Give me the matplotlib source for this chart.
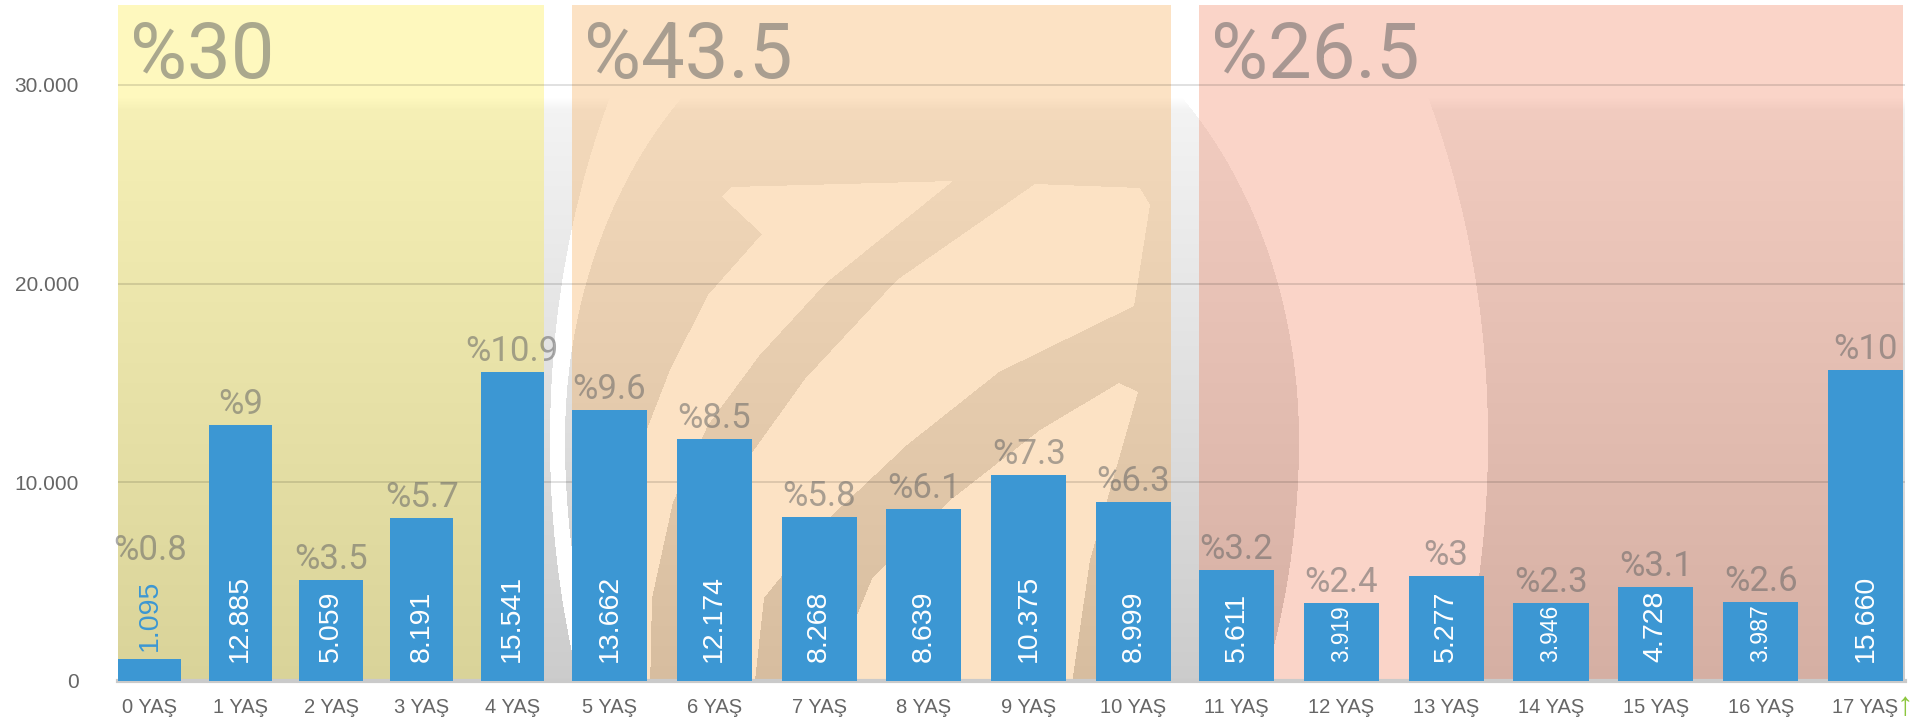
import numpy as np
import matplotlib
matplotlib.use("Agg")
import matplotlib.pyplot as plt
from matplotlib.path import Path
from matplotlib import font_manager

# ---------------- data ----------------
age_labels = ["0 YAŞ", "1 YAŞ", "2 YAŞ", "3 YAŞ", "4 YAŞ", "5 YAŞ", "6 YAŞ", "7 YAŞ",
              "8 YAŞ", "9 YAŞ", "10 YAŞ", "11 YAŞ", "12 YAŞ", "13 YAŞ", "14 YAŞ",
              "15 YAŞ", "16 YAŞ", "17 YAŞ"]
counts = [1095, 12885, 5059, 8191, 15541, 13662, 12174, 8268, 8639, 10375, 8999,
          5611, 3919, 5277, 3946, 4728, 3987, 15660]
shares = [0.8, 9, 3.5, 5.7, 10.9, 9.6, 8.5, 5.8, 6.1, 7.3, 6.3,
          3.2, 2.4, 3, 2.3, 3.1, 2.6, 10]
group_sizes = [5, 6, 7]
group_shares = [30, 43.5, 26.5]
y_ticks = [0, 10000, 20000, 30000]

# ---------------- style / layout ----------------
W, H = 1924, 725
PL, PR, PT, PB = 118, 1905, 5, 681
spans = [(118, 544), (572, 1171), (1199, 1903)]
bar_fracs = [0.70, 0.716, 0.716]
region_colors = ["#fef8be", "#fce2c4", "#fad4c8"]
BAR = "#3c97d3"
GREY = "#666666"
YMAX = 34020
VAL_FS = 20.5

names = {f.name for f in font_manager.fontManager.ttflist}
REG = "Liberation Sans" if "Liberation Sans" in names else "DejaVu Sans"
PCTF = "Roboto" if "Roboto" in names else REG
plt.rcParams["font.family"] = [REG, "DejaVu Sans"]


def thousands(v):
    return f"{v:,}".replace(",", ".")


# ---------------- decorative background (logo-like) ----------------
yy, xx = np.mgrid[0:H, 0:W].astype(float) + 0.5
g = 1.0 - 0.045 * np.clip((yy - 98) / 12, 0, 1) - 0.155 * np.clip((yy - 105) / (PB - 105), 0, 1)
outer = ((xx - 1019) / 469) ** 2 + ((yy - 440) / 700) ** 2 <= 1
bI = np.where(yy < 440, 468.0, 568.0)
inner = ((xx - 932) / 367) ** 2 + ((yy - 440) / bI) ** 2 <= 1
white = outer & ~inner
band_polys = [
    [(762, 234), (722, 197), (732, 187), (953, 181), (897, 226), (826, 283), (759, 356),
     (708, 425), (673, 502), (652, 598), (650, 690), (600, 690), (612, 560), (635, 460),
     (670, 370), (708, 295)],
    [(1035, 184), (1140, 188), (1150, 205), (1134, 306), (999, 372), (907, 445),
     (826, 521), (764, 598), (754, 690), (688, 690), (703, 560), (744, 464), (805, 379),
     (897, 280)],
    [(1119, 383), (1138, 392), (1090, 560), (1071, 690), (826, 690), (872, 579),
     (948, 502), (1040, 430)],
]
pts = np.column_stack([xx.ravel(), yy.ravel()])
for poly in band_polys:
    white |= Path(poly).contains_points(pts).reshape(H, W)
dark = np.where(white, 0.0, 1.0 - g)          # amount of grey showing through

img = np.ones((H, W, 3))
k = np.ones((H, W))                            # how much of the grey reaches the eye
for (x0, x1), c in zip(spans, region_colors):
    img[PT:PB, x0:x1] = matplotlib.colors.to_rgb(c)
    k[PT:PB, x0:x1] = 0.72
plot_mask = np.zeros((H, W), bool)
plot_mask[PT:PB, PL:PR] = True
img -= (np.where(plot_mask, k * dark, 0.0))[..., None]
img = np.clip(img, 0, 1)

fig = plt.figure(figsize=(W / 100, H / 100), dpi=100)
bg = fig.add_axes([0, 0, 1, 1], zorder=0)
bg.imshow(img, extent=(0, W, H, 0), aspect="auto", interpolation="bilinear")
bg.set_xlim(0, W)
bg.set_ylim(H, 0)
bg.set_axis_off()


def rect(x0, x1, y0, y1):
    return [x0 / W, (H - y1) / H, (x1 - x0) / W, (y1 - y0) / H]


# grid / y-axis layer
gax = fig.add_axes(rect(PL, PR, PT, PB), zorder=1)
gax.set_facecolor("none")
for s in gax.spines.values():
    s.set_visible(False)
gax.set_xlim(0, 1)
gax.set_ylim(0, YMAX)
gax.set_xticks([])
gax.set_yticks(y_ticks, [thousands(t) for t in y_ticks])
gax.tick_params(axis="y", length=0, pad=28, labelsize=15, labelcolor=GREY)
gax.grid(axis="y", color="black", alpha=0.14, lw=1.2)
gax.axhline(0, color="#cacaca", lw=3, clip_on=False)

renderer = fig.canvas.get_renderer()

start = 0
for gi, (n, (x0, x1), wf) in enumerate(zip(group_sizes, spans, bar_fracs)):
    ax = fig.add_axes(rect(x0, x1, PT, PB), zorder=2 + gi)
    ax.set_facecolor("none")
    for s in ax.spines.values():
        s.set_visible(False)
    vals = counts[start:start + n]
    shs = shares[start:start + n]
    labs = age_labels[start:start + n]
    xs = np.arange(n)
    ax.bar(xs, vals, width=wf, color=BAR, zorder=2)
    ax.set_xlim(-wf / 2, n - 1 + wf / 2)
    ax.set_ylim(0, YMAX)
    ax.set_yticks([])
    ax.set_xticks(xs, labs)
    ax.tick_params(axis="x", length=0, pad=12, labelsize=14.5, labelcolor=GREY)

    ax.annotate(f"%{group_shares[gi]:g}", xy=(0, 1), xycoords="axes fraction",
                xytext=(12, -73), textcoords="offset pixels", ha="left", va="baseline",
                fontsize=56, family=PCTF, color=GREY, alpha=0.55)

    for i, (v, sh) in enumerate(zip(vals, shs)):
        bar_px = ax.transData.transform((0, v))[1] - ax.transData.transform((0, 0))[1]
        t = ax.annotate(thousands(v), xy=(i, 0), xytext=(0, 19), textcoords="offset pixels",
                        rotation=90, ha="center", va="bottom", color="white",
                        fontsize=VAL_FS, zorder=5)
        room = bar_px - 19 - 2
        need = t.get_window_extent(renderer).height
        inside = True
        if need > room:
            fs = VAL_FS * room / need
            if fs >= 14:
                t.set_fontsize(fs)
            else:
                inside = False
                t.xy = (i, v)
                t.xyann = (0, 8)
                t.set_color(BAR)
        if inside:
            ax.annotate(f"%{sh:g}", xy=(i, v), xytext=(0, 11), textcoords="offset pixels",
                        ha="center", va="baseline", fontsize=25, family=PCTF,
                        color=GREY, alpha=0.55, zorder=5)
        else:
            ax.annotate(f"%{sh:g}", xy=(0.5, 1), xycoords=t, xytext=(0, 20),
                        textcoords="offset pixels", ha="center", va="baseline",
                        fontsize=25, family=PCTF, color=GREY, alpha=0.55, zorder=5)
    if gi == len(group_sizes) - 1:
        ax.annotate("↑", xy=(n - 1, 0), xycoords=("data", "axes fraction"),
                    xytext=(31, -26), textcoords="offset pixels", ha="left", va="center",
                    fontsize=24, color="#8cc63e", family=[REG, "DejaVu Sans"],
                    annotation_clip=False)
    start += n

fig.savefig("out.png", dpi=100)
